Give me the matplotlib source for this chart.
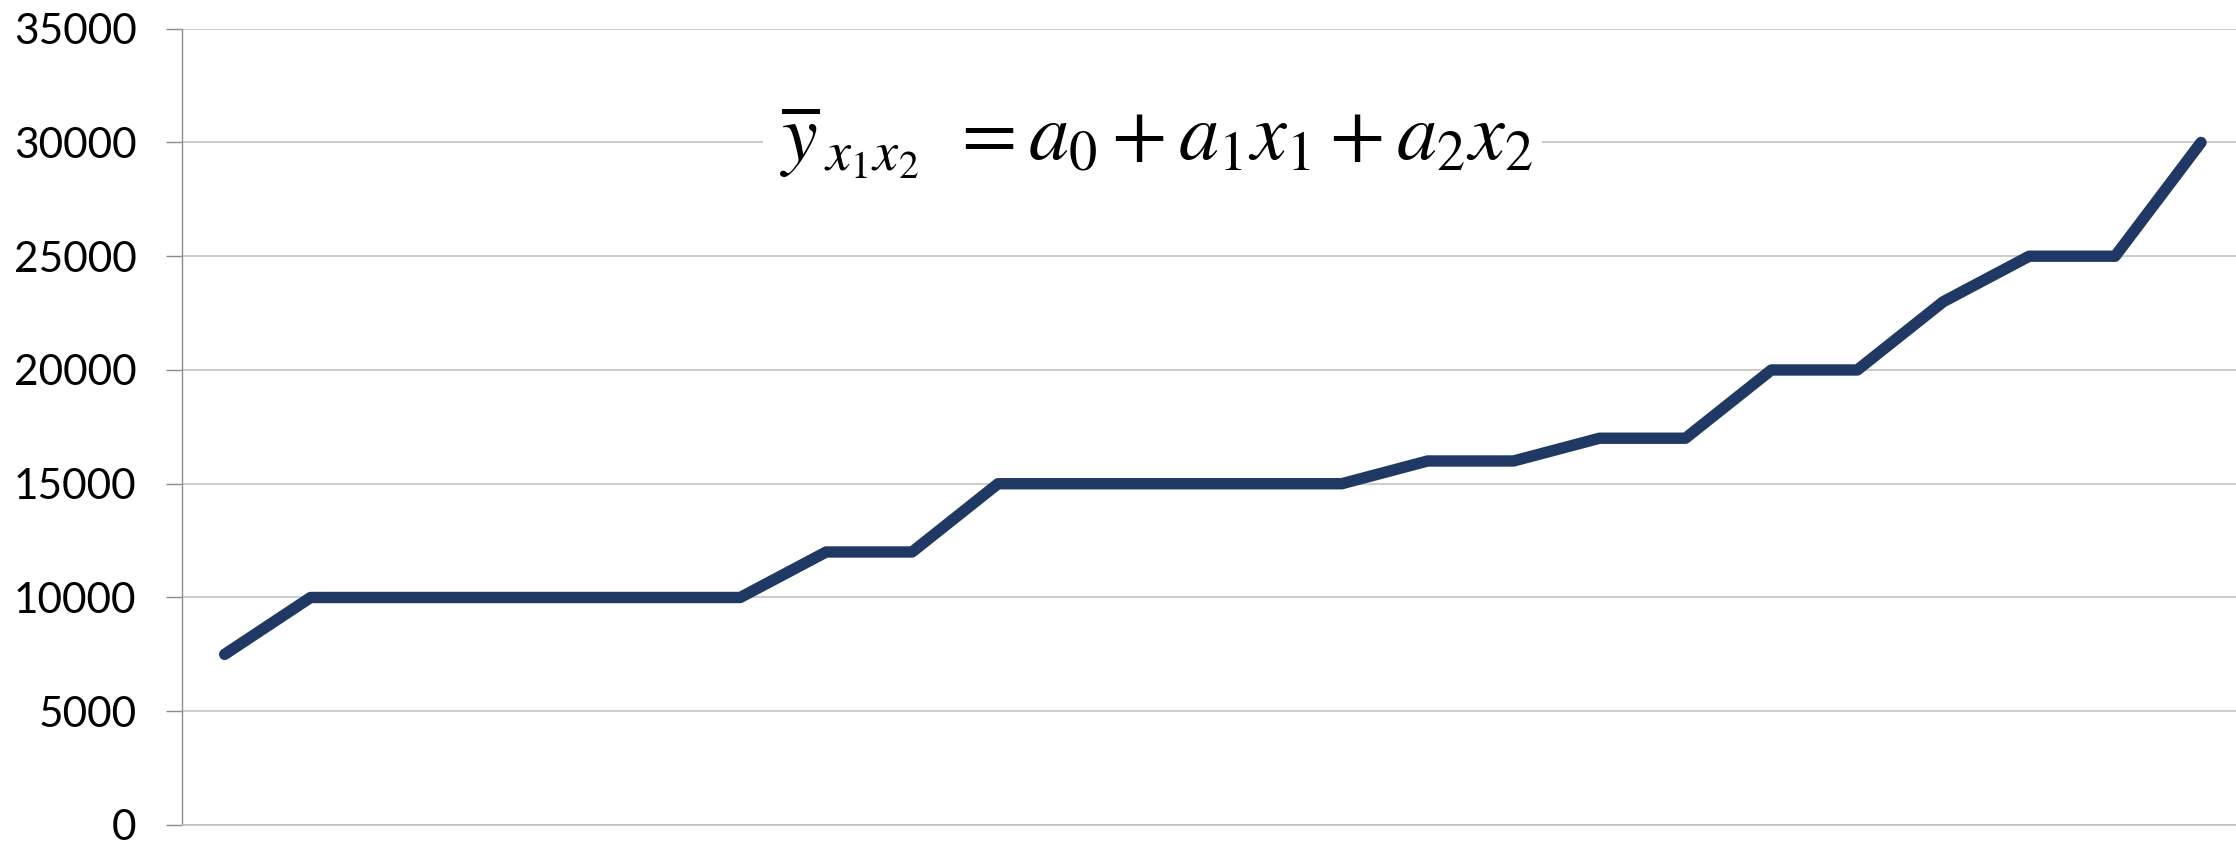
import matplotlib
matplotlib.use('Agg')
import matplotlib.pyplot as plt
import matplotlib.patches as patches

plt.rcParams['font.family'] = ['Lato', 'DejaVu Sans']
plt.rcParams['mathtext.fontset'] = 'stix'

# === データ ===
values = [7500, 10000, 10000, 10000, 10000, 10000, 10000, 12000, 12000, 15000,
          15000, 15000, 15000, 15000, 16000, 16000, 17000, 17000, 20000, 20000,
          23000, 25000, 25000, 30000]
y_ticks = [0, 5000, 10000, 15000, 20000, 25000, 30000, 35000]
equation = r'$\overline{y}_{\,x_1 x_2}\;\, =a_0 + a_1 x_1 + a_2 x_2$'

W, H = 2236, 844
fig = plt.figure(figsize=(W / 100, H / 100), dpi=100)
ax = fig.add_axes([181.7 / W, 1 - 825 / H, (2244 - 181.7) / W, (825 - 28.7) / H])

ax.plot(range(len(values)), values, color='#203864', lw=8.2,
        solid_capstyle='round', solid_joinstyle='round', zorder=3)

ax.set_xlim(-0.5, len(values) - 0.5)
ax.set_ylim(0, 35000)
ax.set_yticks(y_ticks)
ax.set_yticklabels([str(v) for v in y_ticks])
ax.set_xticks([])
ax.grid(axis='y', color='#bfbfbf', lw=1.1, zorder=0)
ax.tick_params(axis='y', length=11.5, width=1.0, color='#8c8c8c',
               labelsize=30.5, pad=21, labelcolor='black')
for s in ['top', 'right']:
    ax.spines[s].set_visible(False)
ax.spines['left'].set_color('#8c8c8c')
ax.spines['left'].set_linewidth(1.0)
ax.spines['bottom'].set_color('#bfbfbf')
ax.spines['bottom'].set_linewidth(1.1)

# 数式の白い背景
rect = patches.Rectangle((763 / W, 1 - 240 / H), (1542 - 763) / W, 150 / H,
                         transform=fig.transFigure, facecolor='white',
                         edgecolor='none', zorder=2)
fig.add_artist(rect)
fig.text(780 / W, 1 - 160 / H, equation, fontsize=58, va='baseline',
         ha='left', zorder=4)

fig.savefig('out.png', dpi=100)
